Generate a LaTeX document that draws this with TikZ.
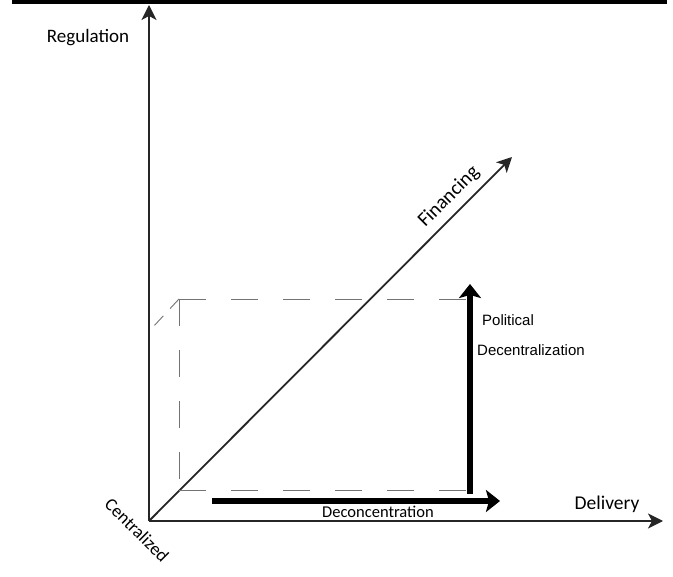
\documentclass[tikz,border=0pt]{standalone}
\usepackage{fontspec}
\setmainfont{Carlito}
\newfontfamily\arialfont{Liberation Sans}
\usetikzlibrary{arrows.meta}
\begin{document}
\begin{tikzpicture}[x=1pt,y=-1pt,
  axis/.style={line width=1.6pt, draw=black!85, -{Stealth[length=15pt,width=15pt,inset=4pt]}},
  bigarrow/.style={line width=5.5pt, -{Stealth[length=14pt,width=22pt,inset=3pt]}},
  guide/.style={line width=0.9pt, draw=black!55, dash pattern=on 27pt off 25pt},
  lbl/.style={inner sep=0pt, text=black},
  plbl/.style={inner sep=0pt, anchor=west, font=\arialfont\fontsize{15}{16}\selectfont}
]
\useasboundingbox (0,0) rectangle (673,577);
% top rule
\coordinate (barL) at (12,2);
\coordinate (barR) at (667,2);
\draw[line width=4pt] (barL) -- (barR);
% axes
\coordinate (O) at (149,521);
\coordinate (Ytip) at (149,5);
\coordinate (Xtip) at (663,521);
\coordinate (Ftip) at (512,157);
\draw[axis] (O) -- (Ytip);
\draw[axis] (O) -- (Xtip);
\draw[axis, line width=1.8pt] (O) -- (Ftip);
% dashed guides
\coordinate (TL) at (179,299);
\coordinate (TR) at (470,299);
\coordinate (BL) at (179,490);
\coordinate (BR) at (468,490);
\coordinate (DL) at (153,327);
\draw[guide] (TL) -- (TR);
\draw[guide] (BL) -- (BR);
\draw[guide, dash pattern=on 27pt off 24pt] (TL) -- (BL);
\draw[guide, dash pattern=on 13pt off 10pt] (TL) -- (DL);
% thick arrows
\coordinate (Vbot) at (470,494);
\coordinate (Vtop) at (470,284);
\coordinate (Hl) at (212,501);
\coordinate (Hr) at (500,501);
\draw[bigarrow] (Vbot) -- (Vtop);
\draw[bigarrow] (Hl) -- (Hr);
% labels
\node[lbl, font=\fontsize{19}{20}\selectfont] (reg) at (88,38) {Regulation};
\node[lbl, font=\fontsize{19.5}{20}\selectfont] (del) at (607,504) {Delivery};
\node[lbl, font=\fontsize{16.5}{18}\selectfont] (dec) at (378,512) {Deconcentration};
\node[lbl, font=\fontsize{20}{20}\selectfont, rotate=45] (fin) at (449,197) {Financing};
\node[lbl, font=\fontsize{18}{18}\selectfont, rotate=-45] (cen) at (137,530) {Centralized};
\node[plbl] (pol) at (482,320) {Political};
\node[plbl] (dcz) at (477,350) {Decentralization};
\end{tikzpicture}
\end{document}
